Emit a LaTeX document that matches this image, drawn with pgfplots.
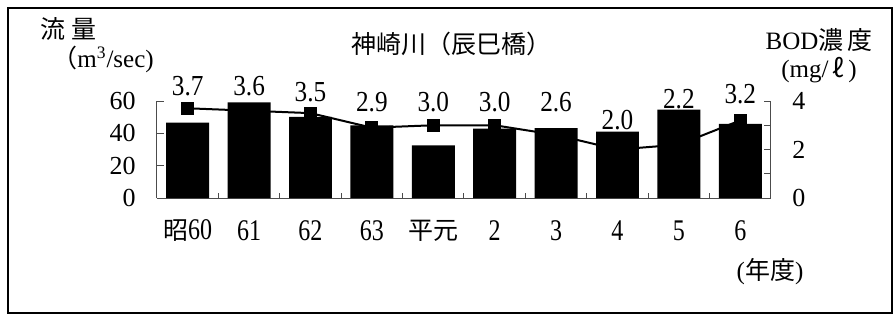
\documentclass[border=0pt]{standalone}
\usepackage{fontspec}
\usepackage{pgfplots}
\pgfplotsset{compat=1.18}
\setmainfont{Liberation Serif}
\newfontfamily\jp{Noto Sans CJK JP}
\newfontfamily\xnum[FakeStretch=0.8]{Liberation Serif}
\newfontfamily\lnum[FakeStretch=0.87]{Liberation Serif}
\newcommand{\fs}{\fontsize{12.5}{14}\selectfont}
\newcommand{\fy}{\fontsize{13}{15}\selectfont}
\newcommand{\fx}{\fontsize{15}{17}\selectfont\xnum}
\newcommand{\fl}{\fontsize{14.5}{16}\selectfont\lnum}

\pgfplotstableread{
x flow
0 46.7
1 59.2
2 50.2
3 45
4 32.5
5 42.9
6 43.3
7 41
8 54.7
9 45.8
}\flowtab

\pgfplotstableread{
x bod
0 3.7
1 3.6
2 3.5
3 2.9
4 3.0
5 3.0
6 2.6
7 2.0
8 2.2
9 3.2
}\bodtab

\pgfplotstableread{
x y lab
0 69.3 3.7
1 69.3 3.6
2 65.6 3.5
3 59.4 2.9
4 59.4 3.0
5 59.4 3.0
6 59.4 2.6
7 48 2.0
8 61 2.2
9 64 3.2
}\labtab

\begin{document}
\begin{tikzpicture}
\useasboundingbox (0,0) rectangle (447.5pt,-158.5pt);
\draw[line width=0.7pt] (4pt,-4pt) rectangle (446pt,-156.5pt);

\begin{axis}[
  at={(78.5pt,-99pt)}, anchor=south west,
  width=307pt, height=48.5pt, scale only axis,
  xmin=-0.5, xmax=9.5, ymin=0, ymax=60,
  axis x line*=bottom, axis y line*=left,
  axis line style={black!70, line width=0.5pt},
  xtick={0,...,9},
  xticklabels={{\fs\jp 昭}60,61,62,63,{\fs\jp 平元},2,3,4,5,6},
  minor xtick={0.5,1.5,...,8.5},
  major x tick style={draw=none},
  minor tick length=2.5pt,
  ytick={0,20,40,60},
  major tick length=3.5pt,
  tick align=inside,
  tick style={black!70, line width=0.5pt},
  xticklabel style={anchor=center, yshift=-16.5pt, font=\fx},
  yticklabel style={anchor=east, inner sep=0pt, xshift=-10.5pt, font=\fy},
  /pgf/number format/assume math mode=true,
  clip=false,
]
\addplot[ybar, bar width=0.7, fill=black, draw=none] table[x=x, y=flow] {\flowtab};
\addplot[draw=none, mark=none, nodes near coords, point meta=explicit symbolic,
  nodes near coords align=center,
  every node near coord/.append style={anchor=center, font=\fl, inner sep=0pt}]
  table[x=x, y=y, meta=lab] {\labtab};
\end{axis}

\begin{axis}[
  at={(78.5pt,-99pt)}, anchor=south west,
  width=307pt, height=48.5pt, scale only axis,
  xmin=-0.5, xmax=9.5, ymin=0, ymax=4,
  axis x line=none, axis y line*=right,
  axis line style={black!70, line width=0.5pt},
  ytick={0,1,2,3,4}, yticklabels={0,,2,,4},
  major tick length=3.5pt,
  tick align=inside,
  tick style={black!70, line width=0.5pt},
  yticklabel style={anchor=west, inner sep=0pt, xshift=10.5pt, font=\fy},
  /pgf/number format/assume math mode=true,
  clip=false,
]
\addplot[black, line width=1pt, mark=square*, mark size=2.75pt] table[x=x, y=bod] {\bodtab};
\end{axis}

\node[font=\fs] at (34pt,-14.5pt) {\jp 流\hspace{3pt}量};
\node[font=\fs] at (51.5pt,-29.5pt) {{\jp （}m\textsuperscript{3}/sec)};
\node[font=\fs] at (225.5pt,-22pt) {\jp 神崎川（辰巳橋）};
\node[font=\fs] at (409.5pt,-20pt) {BOD{\jp 濃\hspace{2pt}度}};
\node[font=\fs] at (409.5pt,-35pt) {(mg/\,{\jp ℓ}\,)};
\node[font=\fs] at (385pt,-136pt) {({\jp 年度})};
\end{tikzpicture}
\end{document}
